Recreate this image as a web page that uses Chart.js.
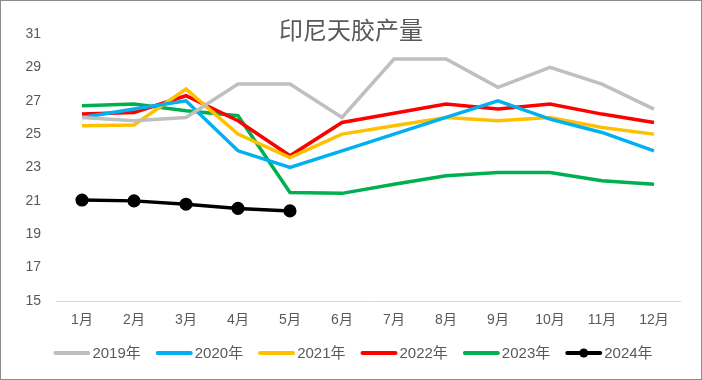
<!DOCTYPE html>
<html>
<head>
<meta charset="utf-8">
<script src="https://cdn.jsdelivr.net/npm/chart.js@4.4.1/dist/chart.umd.min.js"></script>
<style>
    body { margin: 0; background: #fff; }
    .wrap { width: 700px; height: 378px; border: 1px solid #8c8c8c; background: #fff; }
</style>
</head>
<body>
<div class="wrap"><canvas id="rubberChart" width="700" height="378"></canvas></div>
<script>
// Data
const months = ['1月', '2月', '3月', '4月', '5月', '6月', '7月', '8月', '9月', '10月', '11月', '12月'];
const y2019 = [26.0, 25.8, 26.0, 28.0, 28.0, 26.0, 29.5, 29.5, 27.8, 29.0, 28.0, 26.5];
const y2020 = [26.0, 26.5, 27.0, 24.0, 23.0, 24.0, 25.0, 26.0, 27.0, 25.9, 25.1, 24.0];
const y2021 = [25.5, 25.55, 27.7, 25.0, 23.6, 25.0, 25.5, 26.0, 25.8, 26.0, 25.4, 25.0];
const y2022 = [26.2, 26.3, 27.3, 25.8, 23.7, 25.7, 26.25, 26.8, 26.5, 26.8, 26.2, 25.7];
const y2023 = [26.7, 26.8, 26.4, 26.1, 21.5, 21.45, 22.0, 22.5, 22.7, 22.7, 22.2, 22.0];
const y2024 = [21.05, 21.0, 20.8, 20.55, 20.4];
const yTicks = [15, 17, 19, 21, 23, 25, 27, 29, 31];

const textColor = '#595959';
const fontFamily = "'Liberation Sans', 'Noto Sans CJK SC', sans-serif";

function series(label, data, color, withPoints) {
    return {
        label: label,
        data: data,
        borderColor: color,
        backgroundColor: color,
        borderWidth: 3.5,
        pointRadius: withPoints ? 4.8 : 0,
        pointHoverRadius: withPoints ? 4.8 : 0,
        pointBackgroundColor: color,
        pointBorderColor: color,
        tension: 0,
        fill: false
    };
}

// Title drawn over the plot like Excel does
const titlePlugin = {
    id: 'excelTitle',
    afterDraw(chart) {
        const ctx = chart.ctx;
        ctx.save();
        ctx.font = '24px ' + fontFamily;
        ctx.fillStyle = textColor;
        ctx.textAlign = 'center';
        ctx.textBaseline = 'middle';
        ctx.fillText('印尼天胶产量', 350, 31);
        ctx.restore();
    }
};

// Legend with line samples (and marker for 2024)
const legendPlugin = {
    id: 'excelLegend',
    afterDraw(chart) {
        const ctx = chart.ctx;
        const sets = chart.data.datasets;
        const lineW = 37, gapText = 2, gapItem = 15;
        ctx.save();
        ctx.font = '15px ' + fontFamily;
        let total = 0;
        const widths = sets.map(ds => ctx.measureText(ds.label).width);
        widths.forEach(w => { total += lineW + gapText + w + gapItem; });
        total -= gapItem;
        let x = 352 - total / 2;
        const y = 352;
        sets.forEach((ds, i) => {
            ctx.strokeStyle = ds.borderColor;
            ctx.lineWidth = 4;
            ctx.lineCap = 'round';
            ctx.beginPath();
            ctx.moveTo(x + 2, y);
            ctx.lineTo(x + lineW - 2, y);
            ctx.stroke();
            if (ds.pointRadius > 0) {
                ctx.fillStyle = ds.borderColor;
                ctx.beginPath();
                ctx.arc(x + lineW / 2, y, 4.5, 0, Math.PI * 2);
                ctx.fill();
            }
            ctx.fillStyle = textColor;
            ctx.textAlign = 'left';
            ctx.textBaseline = 'middle';
            ctx.fillText(ds.label, x + lineW + gapText, y + 1);
            x += lineW + gapText + widths[i] + gapItem;
        });
        ctx.restore();
    }
};

new Chart(document.getElementById('rubberChart').getContext('2d'), {
    type: 'line',
    data: {
        labels: months,
        datasets: [
            series('2019年', y2019, '#bfbfbf', false),
            series('2020年', y2020, '#00b0f0', false),
            series('2021年', y2021, '#ffc000', false),
            series('2022年', y2022, '#ff0000', false),
            series('2023年', y2023, '#00b050', false),
            series('2024年', y2024, '#000000', true)
        ]
    },
    plugins: [titlePlugin, legendPlugin],
    options: {
        responsive: false,
        animation: false,
        layout: { padding: { top: 33, right: 21, left: 0, bottom: 0 } },
        plugins: {
            legend: { display: false },
            title: { display: false },
            tooltip: { enabled: false }
        },
        scales: {
            x: {
                offset: true,
                grid: { display: false, drawTicks: false, offset: true },
                border: { display: true, color: '#d9d9d9', width: 1 },
                ticks: {
                    color: textColor,
                    font: { family: fontFamily, size: 14 },
                    padding: 11,
                    maxRotation: 0
                },
                afterFit(scale) { scale.height = 78; }
            },
            y: {
                min: 15,
                max: 31,
                afterBuildTicks(scale) { scale.ticks = yTicks.map(v => ({ value: v })); },
                grid: { display: false, drawTicks: false },
                border: { display: false },
                ticks: {
                    color: textColor,
                    font: { family: fontFamily, size: 14 },
                    padding: 15
                },
                afterFit(scale) { scale.width = 55; }
            }
        }
    }
});
</script>
</body>
</html>
